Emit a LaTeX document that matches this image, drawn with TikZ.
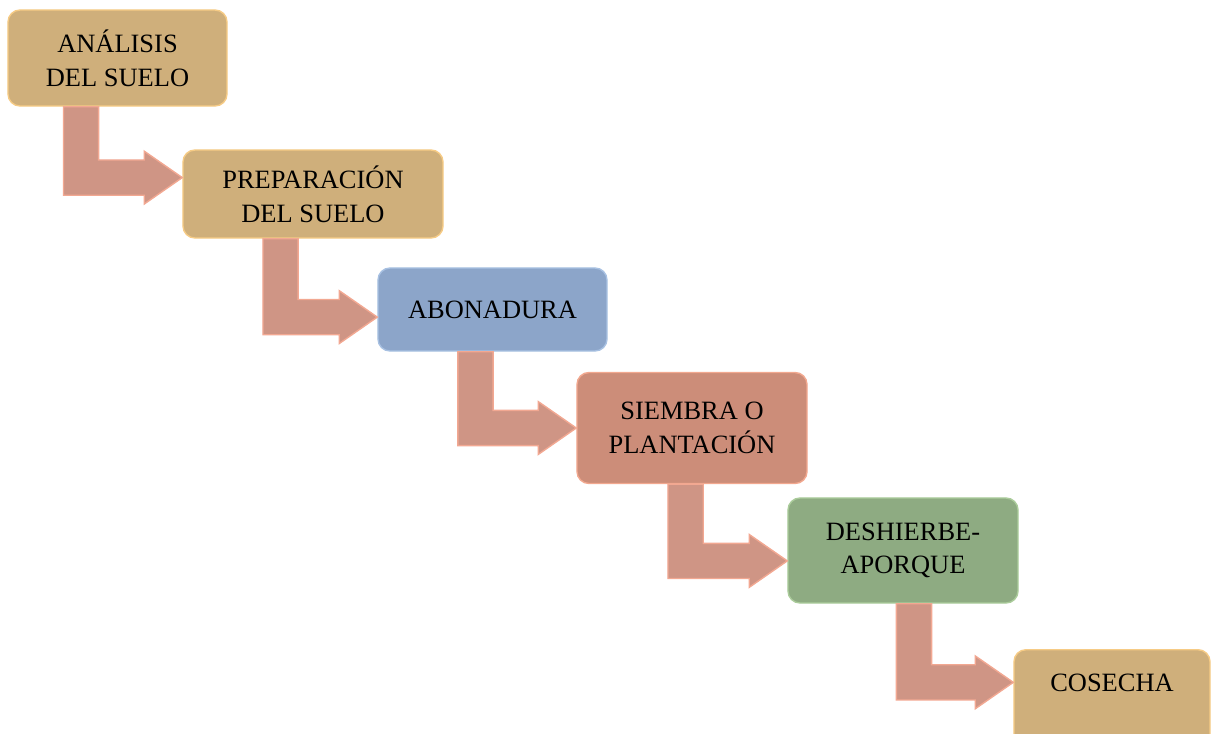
\documentclass[tikz,border=0pt]{standalone}
\usepackage{fontspec}
\setmainfont{Liberation Serif}
\usetikzlibrary{calc}

\definecolor{arena}{HTML}{CFAF7B}
\definecolor{arenaborde}{HTML}{F6CB85}
\definecolor{azul}{HTML}{8CA5C9}
\definecolor{azulborde}{HTML}{A8C1E2}
\definecolor{salmon}{HTML}{CC8D79}
\definecolor{salmonborde}{HTML}{F2A88F}
\definecolor{verde}{HTML}{8EAB82}
\definecolor{verdeborde}{HTML}{ABCC9B}
\definecolor{flechafill}{HTML}{CF9585}
\definecolor{flechaborde}{HTML}{F2A892}

\tikzset{
  caja/.style={draw, rounded corners=0.3cm, line width=1pt, align=center,
    inner sep=0pt, font=\fontsize{18.8}{24}\selectfont},
  flecha/.style={fill=flechafill, draw=flechaborde, line width=1pt},
}

\begin{document}
\begin{tikzpicture}[x=0.025cm,y=-0.025cm]
  \useasboundingbox (0,0) rectangle (1212,733);
  \clip (0,0) rectangle (1212,733);
  % pasos
  \node[caja, fill=arena, draw=arenaborde, minimum width=5.475cm, minimum height=2.4cm] (analisis) at (117.5,58) {ANÁLISIS\\DEL SUELO};
  \node[caja, fill=arena, draw=arenaborde, minimum width=6.5cm, minimum height=2.2cm] (preparacion) at (313,194) {PREPARACIÓN\\DEL SUELO};
  \node[caja, fill=azul, draw=azulborde, minimum width=5.725cm, minimum height=2.075cm] (abonadura) at (492.5,309.5) {ABONADURA};
  \node[caja, fill=salmon, draw=salmonborde, minimum width=5.75cm, minimum height=2.775cm] (siembra) at (692,428) {SIEMBRA O\\PLANTACIÓN};
  \node[caja, fill=verde, draw=verdeborde, minimum width=5.75cm, minimum height=2.625cm] (deshierbe) at (903,550.5) {DESHIERBE-\\APORQUE};
  \node[caja, fill=arena, draw=arenaborde, minimum width=4.9cm, anchor=north, text height=30pt, text depth=50pt] (cosecha) at (1112,649) {COSECHA};
  % flechas en L
  \foreach \a/\b/\dx/\dy in {analisis/preparacion/-0.91/0.41, preparacion/abonadura/-0.81/-0.19,
      abonadura/siembra/-0.425/0, siembra/deshierbe/-0.16/-0.26, deshierbe/cosecha/0.275/0.59}
    \draw[flecha] let \p1=([xshift=\dx cm]\a.south), \p2=([yshift=\dy cm]\b.west) in
      (\x1-0.44cm,\y1) -- (\x1+0.44cm,\y1) -- (\x1+0.44cm,\y2+0.44cm)
      -- (\x2-0.95cm,\y2+0.44cm) -- (\x2-0.95cm,\y2+0.66cm) -- (\x2,\y2)
      -- (\x2-0.95cm,\y2-0.66cm) -- (\x2-0.95cm,\y2-0.44cm) -- (\x1-0.44cm,\y2-0.44cm) -- cycle;
\end{tikzpicture}
\end{document}
